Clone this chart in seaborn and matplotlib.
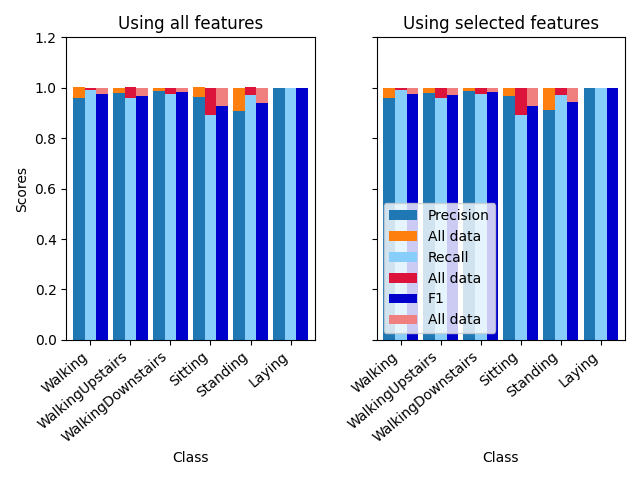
import matplotlib
matplotlib.use("Agg")
import matplotlib.pyplot as plt
import seaborn as sns
import numpy as np

classes = ["Walking", "WalkingUpstairs", "WalkingDownstairs", "Sitting", "Standing", "Laying"]

all_prec = [0.961, 0.981, 0.989, 0.965, 0.906, 1.0]
all_rec = [0.993, 0.961, 0.977, 0.890, 0.973, 1.0]
all_f1 = [0.977, 0.969, 0.985, 0.926, 0.938, 1.0]

sel_prec = [0.961, 0.981, 0.989, 0.969, 0.910, 1.0]
sel_rec = [0.993, 0.961, 0.977, 0.890, 0.973, 1.0]
sel_f1 = [0.977, 0.973, 0.985, 0.926, 0.942, 1.0]

# all-data reference scores
ref_prec_left = [1.005, 1.0, 1.0, 1.005, 1.0, 1.0]
ref_rec_left = [1.0, 1.005, 1.0, 1.0, 1.005, 1.0]
ref_f1_left = [1.0, 1.0, 1.0, 1.0, 1.0, 1.0]
ref_prec_right = [1.0, 1.0, 1.0, 1.0, 1.0, 1.0]
ref_rec_right = [1.0, 1.0, 1.0, 1.0, 1.0, 1.0]
ref_f1_right = [1.0, 1.0, 1.0, 1.0, 1.0, 1.0]

fig, axes = plt.subplots(1, 2, figsize=(6.4, 4.8), dpi=100, sharey=True)
x = np.arange(len(classes))
w = 0.29

def draw(ax, p, r, f, rp, rr, rf, title):
    ax.bar(x - w, p, w, color="tab:blue", label="Precision")
    ax.bar(x - w, np.array(rp) - np.array(p), w, bottom=p, color="tab:orange", label="All data")
    ax.bar(x, r, w, color="lightskyblue", label="Recall")
    ax.bar(x, np.array(rr) - np.array(r), w, bottom=r, color="crimson", label="All data")
    ax.bar(x + w, f, w, color="mediumblue", label="F1")
    ax.bar(x + w, np.array(rf) - np.array(f), w, bottom=f, color="lightcoral", label="All data")
    ax.set_title(title)
    ax.set_xticks(x)
    ax.set_xticklabels(classes, rotation=40, ha="right")
    ax.set_xlabel("Class")
    ax.set_ylim(0, 1.2)
    ax.set_xlim(-0.6, 5.6)

draw(axes[0], all_prec, all_rec, all_f1, ref_prec_left, ref_rec_left, ref_f1_left, "Using all features")
draw(axes[1], sel_prec, sel_rec, sel_f1, ref_prec_right, ref_rec_right, ref_f1_right, "Using selected features")
axes[0].set_ylabel("Scores")
axes[1].legend(loc="lower left")
fig.tight_layout()
fig.subplots_adjust(wspace=0.25)
fig.savefig("out.png")
